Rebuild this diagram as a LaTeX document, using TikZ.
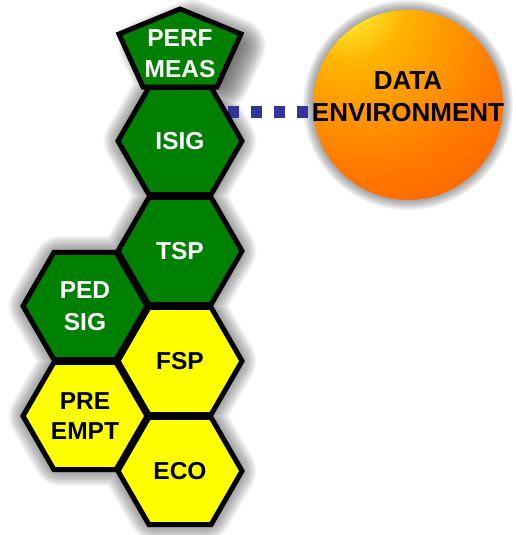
\documentclass[tikz,border=0pt]{standalone}
\usepackage{fontspec}
\setmainfont{Liberation Sans}
\usetikzlibrary{shapes.geometric}

\definecolor{hexgreen}{RGB}{0,128,0}
\definecolor{hexyellow}{RGB}{255,255,0}
\definecolor{linkblue}{RGB}{51,51,153}
\definecolor{orbA}{RGB}{255,255,70}
\definecolor{orbB}{RGB}{255,180,0}
\definecolor{orbC}{RGB}{255,120,0}
\definecolor{orbD}{RGB}{255,78,0}
\definecolor{orbE}{RGB}{255,65,0}

% off-centre highlight for the sphere
\pgfdeclareradialshading{orb}{\pgfpoint{-20bp}{33bp}}{%
  color(0bp)=(orbA); color(4bp)=(orbA); color(15bp)=(orbB);
  color(35bp)=(orbC); color(60bp)=(orbD); color(75bp)=(orbE)}

% outline of the cell cluster, inset by the blur radius, for its drop shadow
\newcommand{\clusterpath}{%
  \foreach \c in {c-isig,c-tsp,c-fsp,c-eco,c-ped,c-pre} {
    (\c) ++(48.3,0) -- ++(-24.15,41.83) -- ++(-48.3,0) -- ++(-24.15,-41.83)
    -- ++(24.15,-41.83) -- ++(48.3,0) -- cycle }
  (180,21.4) -- (225.6,40.1) -- (209.6,75.5) -- (150.4,75.5) -- (134.4,40.1)
  -- cycle}

\tikzset{
  hex/.style={regular polygon, regular polygon sides=6, minimum size=124pt,
    inner sep=0pt, outer sep=0pt, draw=black, line width=5pt, align=center,
    font=\bfseries\fontsize{24.5}{32}\selectfont},
  greenhex/.style={hex, fill=hexgreen, text=white},
  yellowhex/.style={hex, fill=hexyellow, text=black},
  penta/.style={draw=black, fill=hexgreen, line width=5pt},
  hexlabel/.style={inner sep=0pt, align=center, text=white,
    font=\bfseries\fontsize{24.5}{31}\selectfont},
  sphere/.style={circle, minimum size=190pt, inner sep=0pt, shading=orb},
  link/.style={draw=linkblue, line width=12pt, dash pattern=on 11pt off 12pt},
}

\begin{document}
\begin{tikzpicture}[x=1pt,y=-1pt]
\useasboundingbox (0,0) rectangle (516,535);

% cell centres
\coordinate (c-isig) at (180,141);
\coordinate (c-tsp)  at (180,251);
\coordinate (c-fsp)  at (180,361);
\coordinate (c-eco)  at (180,471);
\coordinate (c-ped)  at (85,306);
\coordinate (c-pre)  at (85,416);
\coordinate (c-data) at (408,105);

% soft drop shadow of the cluster
\begin{scope}[transparency group, opacity=0.72, shift={(12,6)}]
  \foreach \w in {2,4,...,56} {
    \draw[black, line width=\w pt, opacity=0.048, line join=round] \clusterpath;
  }
  \fill[black] \clusterpath;
\end{scope}

% soft drop shadow of the sphere
\begin{scope}[transparency group, opacity=0.68, shift={(10,10)}]
  \foreach \w in {2,4,...,40} {
    \draw[black, line width=\w pt, opacity=0.067] (c-data) circle[radius=85pt];
  }
  \fill[black] (c-data) circle[radius=85pt];
\end{scope}

% data sphere
\node[sphere] (data) at (c-data) {};
\node[inner sep=0pt, align=center,
      font=\bfseries\fontsize{26}{32}\selectfont] (datalbl) at (408,97)
      {DATA\\ENVIRONMENT};

% dotted link between ISIG and the sphere
\coordinate (linkstart) at (227.5,111.5);
\draw[link] (linkstart) -- (linkstart -| data.west);

% right column
\node[greenhex]  (isig) at (c-isig) {ISIG};
\node[greenhex]  (tsp)  at (c-tsp)  {TSP};
\node[yellowhex] (fsp)  at (c-fsp)  {FSP};
\node[yellowhex] (eco)  at (c-eco)  {ECO};
% left column
\node[greenhex]  (ped)  at (c-ped)  {PED\\SIG};
\node[yellowhex, font=\bfseries\fontsize{24.5}{30}\selectfont]
                 (pre)  at (c-pre)  {PRE\\EMPT};

% pentagon cap
\draw[penta] (180,9) -- (241,34) -- (217,87) -- (143,87) -- (119,34) -- cycle;
\node[hexlabel] (perf) at (180,54) {PERF\\MEAS};
\end{tikzpicture}
\end{document}
